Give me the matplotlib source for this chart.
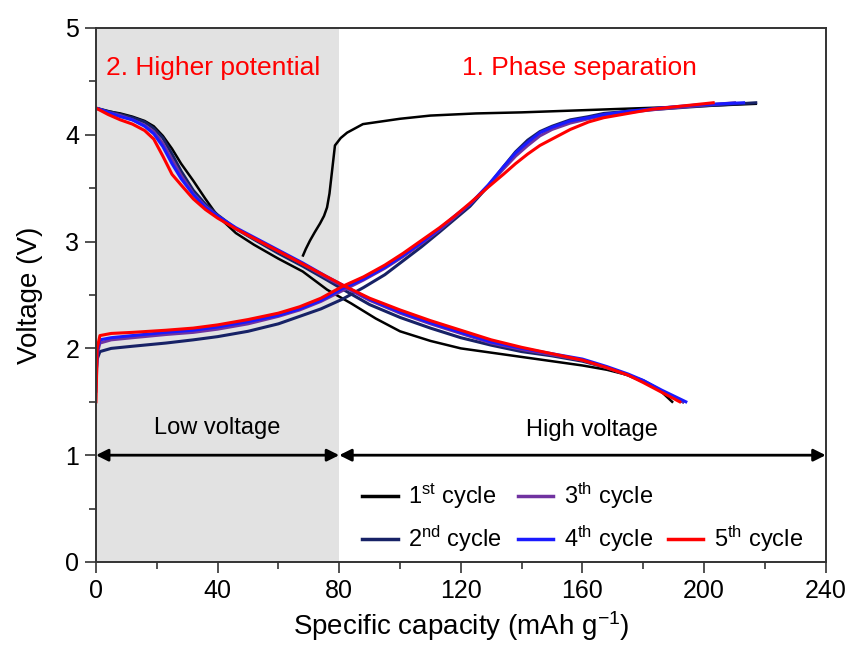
import matplotlib
matplotlib.use("Agg")
import matplotlib.pyplot as plt
from matplotlib.lines import Line2D
from matplotlib.ticker import MultipleLocator

plt.rcParams["font.family"] = ["Liberation Sans", "DejaVu Sans"]
plt.rcParams["mathtext.fontset"] = "custom"
plt.rcParams["mathtext.rm"] = "Liberation Sans"
plt.rcParams["mathtext.it"] = "Liberation Sans:italic"

# discharge curves (capacity in mAh/g, voltage in V)
dis1_x = [0, 4, 8, 12, 16, 19, 22, 25, 28, 32, 36, 40, 46, 52, 60, 68, 76, 84,
          92, 100, 110, 120, 130, 140, 150, 160, 168, 175, 180, 185, 189.5]
dis1_v = [4.25, 4.22, 4.20, 4.17, 4.13, 4.08, 3.99, 3.87, 3.73, 3.57, 3.40, 3.24,
          3.08, 2.97, 2.84, 2.72, 2.55, 2.42, 2.28, 2.16, 2.07, 2.00, 1.96, 1.92,
          1.88, 1.84, 1.80, 1.75, 1.70, 1.62, 1.50]

dis_x = [0, 4, 8, 12, 16, 19, 22, 25, 28, 32, 36, 40, 46, 52, 60, 68, 76, 82,
         90, 100, 110, 120, 130, 140, 150, 160, 168, 175, 180, 186]
dis2_v = [4.25, 4.22, 4.19, 4.16, 4.12, 4.06, 3.97, 3.82, 3.66, 3.48, 3.35, 3.25,
          3.12, 3.02, 2.89, 2.77, 2.64, 2.54, 2.41, 2.29, 2.19, 2.10, 2.03, 1.97,
          1.93, 1.88, 1.82, 1.75, 1.69, 1.60]
dis3_v = [4.25, 4.21, 4.18, 4.14, 4.09, 4.03, 3.92, 3.77, 3.62, 3.45, 3.33, 3.24,
          3.12, 3.03, 2.91, 2.79, 2.66, 2.57, 2.45, 2.33, 2.23, 2.14, 2.05, 1.99,
          1.94, 1.89, 1.82, 1.75, 1.69, 1.60]
dis4_v = [4.25, 4.21, 4.17, 4.14, 4.08, 4.01, 3.89, 3.73, 3.59, 3.44, 3.32, 3.24,
          3.13, 3.04, 2.92, 2.80, 2.67, 2.58, 2.46, 2.34, 2.24, 2.15, 2.06, 2.00,
          1.95, 1.90, 1.83, 1.76, 1.70, 1.61]
dis5_v = [4.25, 4.19, 4.14, 4.10, 4.04, 3.96, 3.80, 3.63, 3.53, 3.40, 3.30, 3.22,
          3.12, 3.03, 2.91, 2.79, 2.67, 2.58, 2.47, 2.36, 2.26, 2.17, 2.08, 2.01,
          1.95, 1.89, 1.82, 1.75, 1.68, 1.59]
dis_end = [193, 193, 194, 192]

# charge curves
chg1_x = [68.1, 69, 70.4, 72, 73.7, 75, 76, 76.8, 77.4, 78, 78.6, 80.5, 82.6,
          87.8, 100, 110, 125, 140, 160, 180, 200, 217]
chg1_v = [2.87, 2.93, 3.01, 3.09, 3.17, 3.24, 3.32, 3.45, 3.60, 3.75, 3.90,
          3.97, 4.02, 4.10, 4.15, 4.18, 4.20, 4.21, 4.23, 4.25, 4.27, 4.29]

chg_x = [0, 0.4, 1.3, 5, 12, 23, 32, 40, 50, 60, 67, 74, 81, 88, 95, 101, 107,
         113, 118, 123, 129, 134, 138, 142, 146, 150, 156, 162, 167, 175]
chg2_v = [1.75, 1.90, 1.97, 2.00, 2.02, 2.05, 2.08, 2.11, 2.16, 2.23, 2.30, 2.37,
          2.46, 2.57, 2.69, 2.82, 2.95, 3.09, 3.21, 3.33, 3.52, 3.70, 3.84, 3.95,
          4.03, 4.08, 4.14, 4.17, 4.20, 4.22]
chg3_v = [1.60, 1.95, 2.05, 2.08, 2.10, 2.13, 2.15, 2.18, 2.23, 2.30, 2.36, 2.44,
          2.54, 2.64, 2.75, 2.86, 2.98, 3.11, 3.23, 3.35, 3.52, 3.68, 3.80, 3.90,
          3.99, 4.05, 4.11, 4.15, 4.18, 4.21]
chg4_v = [1.70, 1.98, 2.08, 2.10, 2.12, 2.15, 2.17, 2.20, 2.25, 2.31, 2.37, 2.45,
          2.56, 2.65, 2.76, 2.87, 2.99, 3.12, 3.24, 3.35, 3.53, 3.70, 3.83, 3.93,
          4.02, 4.07, 4.13, 4.16, 4.19, 4.22]
chg5_v = [1.50, 2.00, 2.12, 2.14, 2.15, 2.17, 2.19, 2.22, 2.27, 2.33, 2.39, 2.47,
          2.58, 2.67, 2.78, 2.89, 3.01, 3.13, 3.24, 3.36, 3.51, 3.63, 3.73, 3.82,
          3.90, 3.96, 4.05, 4.12, 4.16, 4.20]
chg_tail_x = [[185, 200, 217], [185, 197, 210], [185, 198, 213], [183, 193, 203]]
chg_tail_v = [[4.24, 4.27, 4.30], [4.24, 4.27, 4.30], [4.25, 4.28, 4.30],
              [4.24, 4.27, 4.30]]

labels = ["1$^{\\rm st}$ cycle", "2$^{\\rm nd}$ cycle", "3$^{\\rm th}$ cycle",
          "4$^{\\rm th}$ cycle", "5$^{\\rm th}$ cycle"]
colors = ["#000000", "#172266", "#7032a0", "#1a1aff", "#ff0000"]

fig = plt.figure(figsize=(8.53, 6.45), dpi=100)
ax = fig.add_axes([0.1125, 0.1287, 0.8555, 0.8279])

ax.axvspan(0, 80, color="#e2e2e2", lw=0, zorder=0)

ax.plot(dis1_x, dis1_v, color=colors[0], lw=1.8)
ax.plot(chg1_x, chg1_v, color=colors[0], lw=1.8)
dis_v = [dis2_v, dis3_v, dis4_v, dis5_v]
chg_v = [chg2_v, chg3_v, chg4_v, chg5_v]
for i in range(4):
    c = colors[i + 1]
    ax.plot(dis_x + [dis_end[i]], dis_v[i] + [1.50], color=c, lw=2.2)
    ax.plot(chg_x + chg_tail_x[i], chg_v[i] + chg_tail_v[i], color=c, lw=2.2)

# region arrows
arrow = dict(arrowstyle="<|-|>", color="black", lw=2, mutation_scale=18,
             shrinkA=0, shrinkB=0)
ax.annotate("", xy=(0, 1), xytext=(80, 1), arrowprops=arrow)
ax.annotate("", xy=(80, 1), xytext=(240, 1), arrowprops=arrow)
ax.text(40, 1.25, "Low voltage", ha="center", va="center", fontsize=17)
ax.text(163, 1.24, "High voltage", ha="center", va="center", fontsize=17)
ax.text(3.3, 4.63, "2. Higher potential", color="red", fontsize=19,
        ha="left", va="center")
ax.text(120.5, 4.63, "1. Phase separation", color="red", fontsize=19,
        ha="left", va="center")

# 3-column legend, the empty slot keeps "5th cycle" on the second row
handles = [Line2D([], [], color=colors[0], lw=2.5),
           Line2D([], [], color=colors[1], lw=2.5),
           Line2D([], [], color=colors[2], lw=2.5),
           Line2D([], [], color=colors[3], lw=2.5),
           Line2D([], [], color="none"),
           Line2D([], [], color=colors[4], lw=2.5)]
leg_labels = [labels[0], labels[1], labels[2], labels[3], labels[4], labels[4]]
leg = ax.legend(handles, leg_labels, ncol=3, loc="lower left",
                bbox_to_anchor=(0.349, -0.008), frameon=False, fontsize=17,
                handlelength=1.5, handletextpad=0.45, columnspacing=0.65,
                labelspacing=0.55, borderpad=0)
leg.get_texts()[4].set_alpha(0)

ax.set_xlim(0, 240)
ax.set_ylim(0, 5)
ax.xaxis.set_major_locator(MultipleLocator(40))
ax.xaxis.set_minor_locator(MultipleLocator(20))
ax.yaxis.set_major_locator(MultipleLocator(1))
ax.yaxis.set_minor_locator(MultipleLocator(0.5))
ax.tick_params(which="both", direction="out", top=False, right=False,
               width=1.2, color="#333333")
ax.tick_params(which="major", length=8, labelsize=18, pad=4)
ax.tick_params(which="minor", length=5)
for s in ax.spines.values():
    s.set_linewidth(1.4)
    s.set_color("#333333")

ax.set_xlabel("Specific capacity (mAh g$^{-1}$)", fontsize=20, labelpad=5)
ax.set_ylabel("Voltage (V)", fontsize=20, labelpad=16)

fig.savefig("out.png", dpi=100)
